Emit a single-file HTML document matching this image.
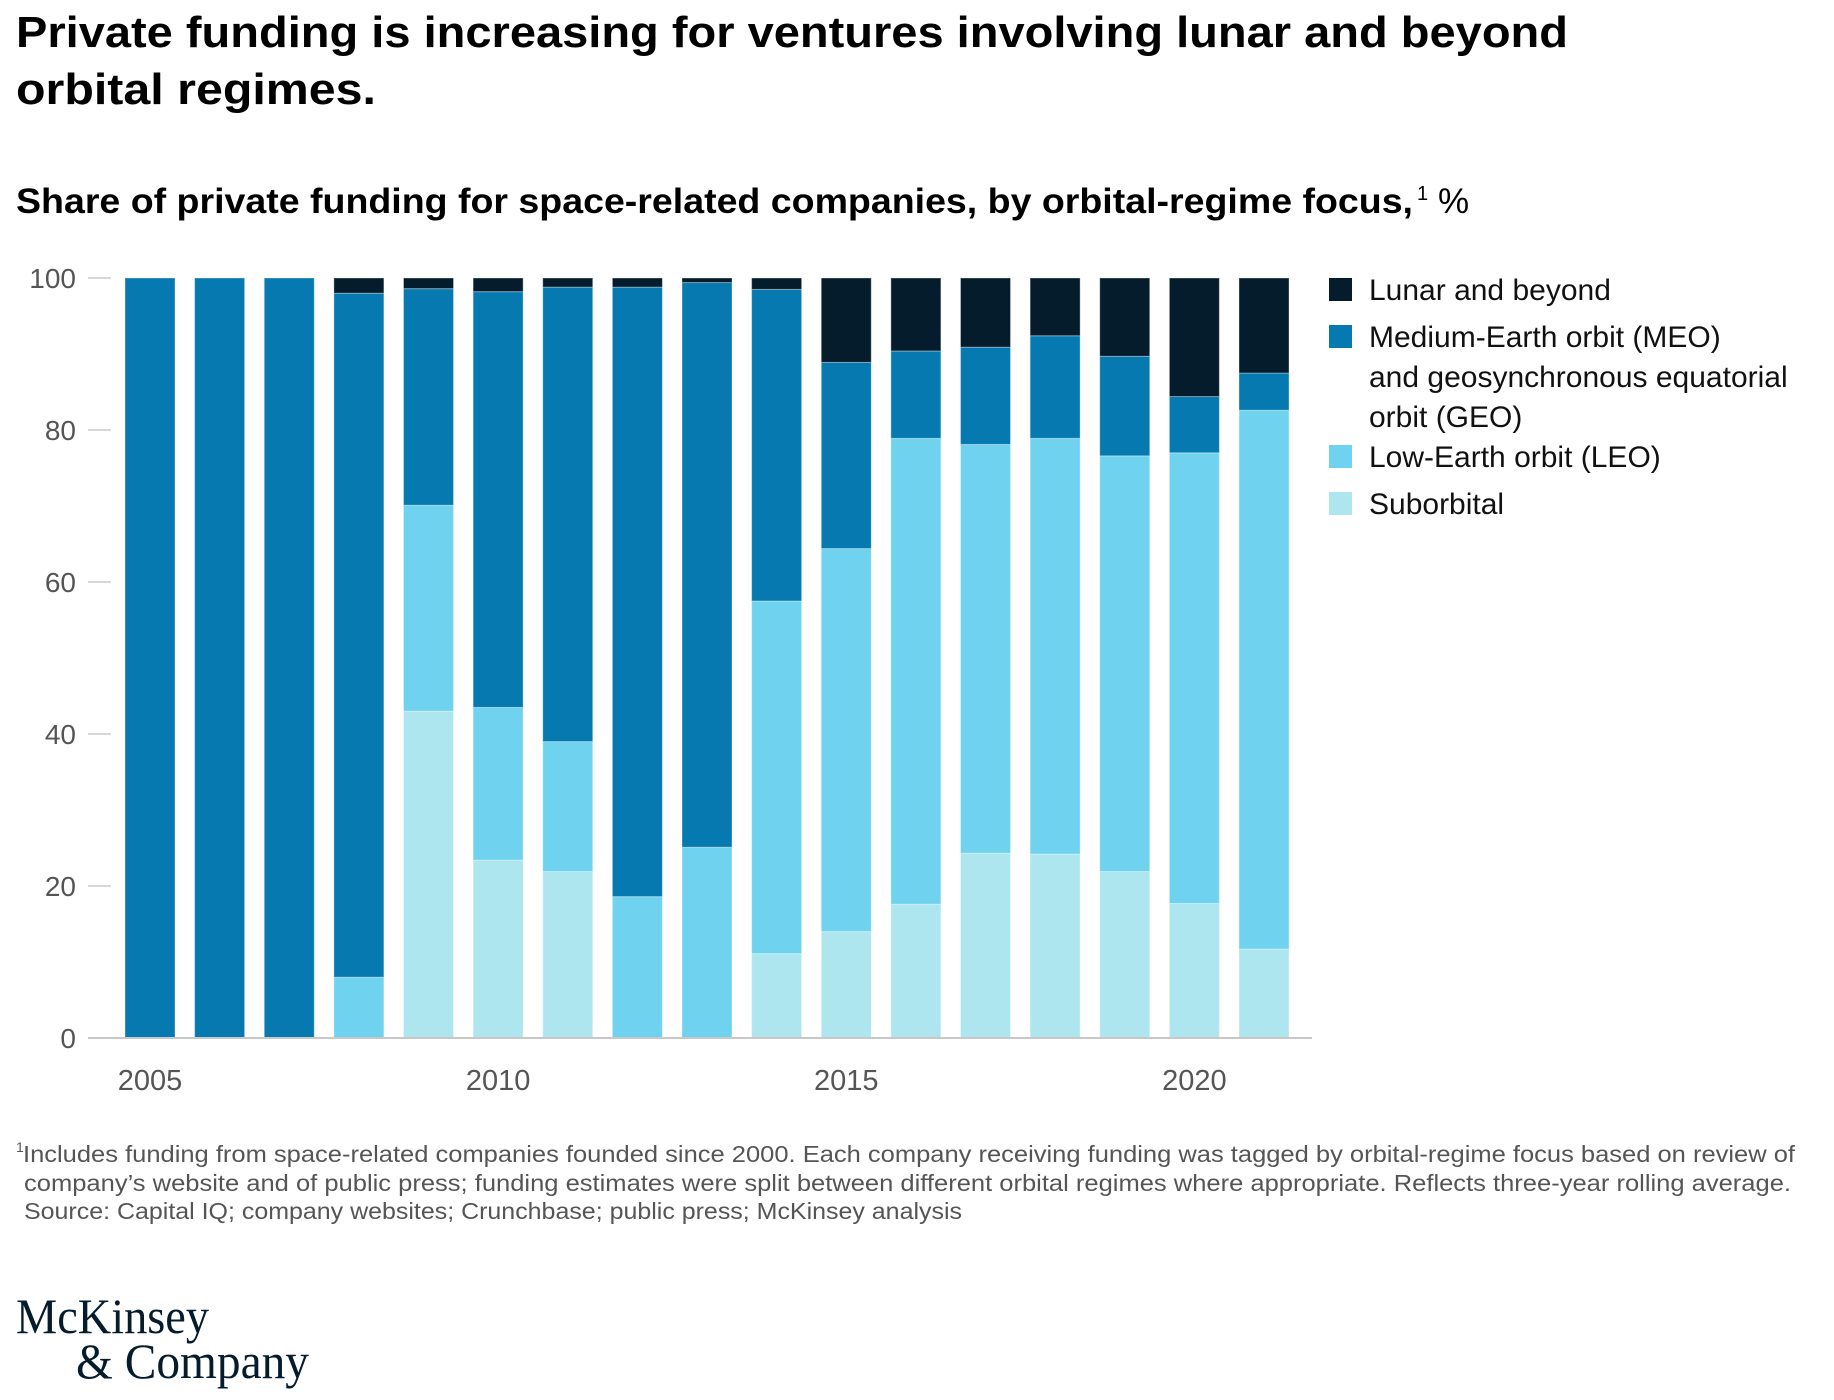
<!DOCTYPE html>
<html><head><meta charset="utf-8"><style>
html,body{margin:0;padding:0;background:#fff;}
svg{display:block;}
text{font-family:"Liberation Sans",sans-serif;}
</style></head><body>
<svg id="chart" width="1834" height="1400" viewBox="0 0 1834 1400" xmlns="http://www.w3.org/2000/svg">
<text x="16" y="47" font-size="44" font-weight="bold" fill="#000" textLength="1552" lengthAdjust="spacingAndGlyphs">Private funding is increasing for ventures involving lunar and beyond</text>
<text x="16" y="104" font-size="44" font-weight="bold" fill="#000" textLength="360" lengthAdjust="spacingAndGlyphs">orbital regimes.</text>
<text x="16" y="213" font-size="35" font-weight="bold" fill="#000" textLength="1397" lengthAdjust="spacingAndGlyphs">Share of private funding for space-related companies, by orbital-regime focus,</text>
<text x="1417" y="200" font-size="20" fill="#000">1</text>
<text x="1438" y="213" font-size="35" fill="#000">%</text>
<g id="yaxis"></g>
<g id="bars"></g>
<g id="xaxis"></g>
<g>
<rect x="1329" y="278" width="23" height="23" fill="#051c2c"/>
<text x="1369" y="300" font-size="30" fill="#111">Lunar and beyond</text>
<rect x="1329" y="325" width="23" height="23" fill="#0679b0"/>
<text font-size="30" fill="#111"><tspan x="1369" y="347">Medium-Earth orbit (MEO)</tspan><tspan x="1369" y="387">and geosynchronous equatorial</tspan><tspan x="1369" y="427">orbit (GEO)</tspan></text>
<rect x="1329" y="445" width="23" height="23" fill="#6fd3f0"/>
<text x="1369" y="467" font-size="30" fill="#111">Low-Earth orbit (LEO)</text>
<rect x="1329" y="492" width="23" height="23" fill="#ade6ef"/>
<text x="1369" y="514" font-size="30" fill="#111">Suborbital</text>
</g>
<g fill="#555" font-size="23">
<text x="16" y="1152" font-size="14">1</text>
<text x="23" y="1162" textLength="1772" lengthAdjust="spacingAndGlyphs">Includes funding from space-related companies founded since 2000. Each company receiving funding was tagged by orbital-regime focus based on review of</text>
<text x="24" y="1191" textLength="1767" lengthAdjust="spacingAndGlyphs">company’s website and of public press; funding estimates were split between different orbital regimes where appropriate. Reflects three-year rolling average.</text>
<text x="24" y="1219" textLength="938" lengthAdjust="spacingAndGlyphs">Source: Capital IQ; company websites; Crunchbase; public press; McKinsey analysis</text>
</g>
<g fill="#051c2c">
<text x="16" y="1333" font-size="50" style="font-family:'Liberation Serif',serif" textLength="193" lengthAdjust="spacingAndGlyphs">McKinsey</text>
<text x="76" y="1378" font-size="50" style="font-family:'Liberation Serif',serif" textLength="233" lengthAdjust="spacingAndGlyphs">&amp; Company</text>
</g>
</svg>
<script>
const years = [2005,2006,2007,2008,2009,2010,2011,2012,2013,2014,2015,2016,2017,2018,2019,2020,2021];
const suborbital = [0,0,0,0,43.0,23.4,21.9,0,0,11.1,14.0,17.6,24.3,24.2,21.9,17.7,11.7];
const leo = [0,0,0,8.0,27.1,20.1,17.1,18.6,25.1,46.4,50.4,61.3,53.8,54.7,54.7,59.3,70.9];
const meo = [100,100,100,90.0,28.5,54.7,59.8,80.2,74.3,41.0,24.5,11.5,12.8,13.5,13.1,7.4,4.9];
const lunar = [0,0,0,2.0,1.4,1.8,1.2,1.2,0.6,1.5,11.1,9.6,9.1,7.6,10.3,15.6,12.5];
const yTicks = [0,20,40,60,80,100];
const xTickLabels = [2005,2010,2015,2020];

const NS = 'http://www.w3.org/2000/svg';
const y0 = 1038, y100 = 278;
function yScale(v){ return y0 - (y0 - y100) * v / 100; }
const x0 = 125, step = 69.625, bw = 50;
function xScale(i){ return x0 + i * step; }

const yaxis = document.getElementById('yaxis');
yTicks.forEach(t => {
  const ln = document.createElementNS(NS,'line');
  
  
  ln.setAttribute('x1', 88); ln.setAttribute('x2', 111);
  ln.setAttribute('y1', yScale(t)); ln.setAttribute('y2', yScale(t));
  ln.setAttribute('stroke', '#cccccc'); ln.setAttribute('stroke-width', 1.5);
  yaxis.appendChild(ln);
  const tx = document.createElementNS(NS,'text');
  
  
  tx.setAttribute('x', 76); tx.setAttribute('y', yScale(t) + 10);
  tx.setAttribute('text-anchor', 'end'); tx.setAttribute('font-size', 28); tx.setAttribute('fill', '#555');
  tx.textContent = t;
  yaxis.appendChild(tx);
});

const bars = document.getElementById('bars');
const series = [[suborbital,'#ade6ef','suborbital'],[leo,'#6fd3f0','leo'],[meo,'#0679b0','meo'],[lunar,'#051c2c','lunar']];
years.forEach((yr, i) => {
  let cum = 0;
  series.forEach(([arr, col, nm]) => {
    const v = arr[i];
    if (v <= 0) return;
    const r = document.createElementNS(NS,'rect');
    
    
    r.setAttribute('x', xScale(i));
    r.setAttribute('width', bw);
    r.setAttribute('y', yScale(cum + v));
    r.setAttribute('height', yScale(cum) - yScale(cum + v));
    r.setAttribute('fill', col);
    r.setAttribute('stroke', 'rgba(255,255,255,0.35)');
    r.setAttribute('stroke-width', 1);
    bars.appendChild(r);
    cum += v;
  });
});

const xaxis = document.getElementById('xaxis');
const base = document.createElementNS(NS,'line');


base.setAttribute('x1', 88); base.setAttribute('x2', 1312);
base.setAttribute('y1', y0); base.setAttribute('y2', y0);
base.setAttribute('stroke', '#c8c8c8'); base.setAttribute('stroke-width', 2);
xaxis.appendChild(base);
xTickLabels.forEach(yr => {
  const i = years.indexOf(yr);
  const tx = document.createElementNS(NS,'text');
  
  
  tx.setAttribute('x', xScale(i) + bw/2); tx.setAttribute('y', 1090);
  tx.setAttribute('text-anchor', 'middle'); tx.setAttribute('font-size', 29); tx.setAttribute('fill', '#555');
  tx.textContent = yr;
  xaxis.appendChild(tx);
});
</script>
</body></html>
